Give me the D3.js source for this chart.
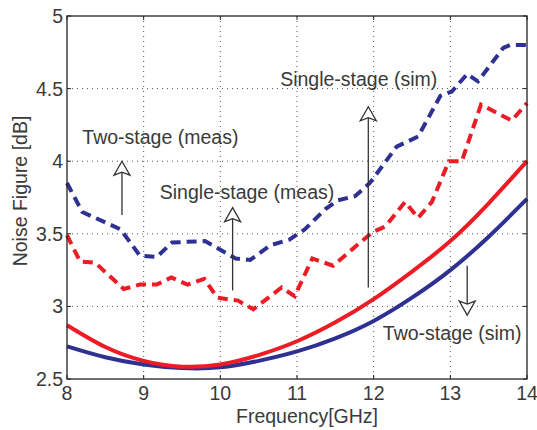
<!DOCTYPE html>
<html>
<head>
<meta charset="utf-8">
<script src="https://cdn.jsdelivr.net/npm/d3@7"></script>
<style>
  body { margin: 0; background: #fff; }
  text { font-family: "Liberation Sans", Arial, Helvetica, sans-serif; fill: #3a3a3a; }
</style>
</head>
<body>
<svg id="chart" width="537" height="430"></svg>
<script>
// tick values
var xTicks = [8, 9, 10, 11, 12, 13, 14]
  , yTicks = [2.5, 3, 3.5, 4, 4.5, 5];

// two-stage measured (blue dashed)
var twoMeasFreq = [8.0, 8.2, 8.7, 8.95, 9.17, 9.37, 9.8, 10.0, 10.2, 10.39, 10.65, 10.9, 11.1, 11.37, 11.53, 11.76, 11.95, 12.3, 12.58, 12.87, 13.02, 13.22, 13.36, 13.69, 13.78, 14.0]
  , twoMeasNF = [3.85, 3.65, 3.53, 3.35, 3.34, 3.44, 3.45, 3.39, 3.33, 3.32, 3.42, 3.46, 3.53, 3.67, 3.73, 3.76, 3.85, 4.1, 4.17, 4.45, 4.48, 4.6, 4.55, 4.78, 4.8, 4.8];

// single-stage measured (red dashed)
var singleMeasFreq = [8.0, 8.17, 8.37, 8.74, 8.95, 9.17, 9.36, 9.57, 9.79, 9.96, 10.23, 10.43, 10.8, 10.97, 11.2, 11.47, 11.98, 12.15, 12.41, 12.58, 12.76, 12.98, 13.15, 13.4, 13.8, 14.0]
  , singleMeasNF = [3.49, 3.31, 3.30, 3.12, 3.15, 3.15, 3.2, 3.15, 3.19, 3.06, 3.04, 2.98, 3.13, 3.07, 3.33, 3.28, 3.51, 3.55, 3.72, 3.61, 3.72, 4.0, 4.0, 4.39, 4.28, 4.4];

// simulated curves, sampled every 0.5 GHz
var simFreq = [8, 8.5, 9, 9.5, 10, 10.5, 11, 11.5, 12, 12.5, 13, 13.5, 14]
  , singleSimNF = [2.87, 2.72, 2.625, 2.585, 2.60, 2.665, 2.76, 2.89, 3.05, 3.24, 3.45, 3.71, 4.0]
  , twoSimNF = [2.725, 2.65, 2.60, 2.575, 2.58, 2.625, 2.69, 2.78, 2.90, 3.06, 3.25, 3.48, 3.74];

// annotations: text + arrows (data coords)
var labels = ["Two-stage (meas)", "Single-stage (meas)", "Single-stage (sim)", "Two-stage (sim)"]
  , labelFreq = [8.2, 9.21, 10.78, 12.12]
  , labelNF = [4.12, 3.74, 4.52, 2.77]
  , arrowFreq = [8.717, 10.16, 11.93, 13.22]
  , arrowFrom = [3.63, 3.11, 3.13, 3.28]
  , arrowTo = [4.0, 3.68, 4.375, 2.94];

var width = 537
  , height = 430
  , margin = {top: 16, right: 10, bottom: 51, left: 67}
  , blue = "#2e3192"
  , red = "#ed1c24"
  , fontSize = "19.5px";

var svg = d3.select("#chart");

var x = d3.scaleLinear().domain([8, 14]).range([margin.left, width - margin.right]);
var y = d3.scaleLinear().domain([2.5, 5]).range([height - margin.bottom, margin.top]);

var g = svg.append("g");

// dotted grid
g.selectAll(".vgrid")
  .data(xTicks.slice(1, -1))
 .enter().append("line")
  .attr("x1", d => x(d)).attr("x2", d => x(d))
  .attr("y1", y(5)).attr("y2", y(2.5))
  .attr("stroke", "#555").attr("stroke-width", 1)
  .attr("stroke-dasharray", "1,4");

g.selectAll(".hgrid")
  .data(yTicks.slice(1, -1))
 .enter().append("line")
  .attr("y1", d => y(d)).attr("y2", d => y(d))
  .attr("x1", x(8)).attr("x2", x(14))
  .attr("stroke", "#555").attr("stroke-width", 1)
  .attr("stroke-dasharray", "1,4");

// inside ticks on all four sides
var tickLen = 4;
xTicks.forEach(function(t){
  g.append("line").attr("x1", x(t)).attr("x2", x(t)).attr("y1", y(2.5)).attr("y2", y(2.5) - tickLen).attr("stroke", "#222");
  g.append("line").attr("x1", x(t)).attr("x2", x(t)).attr("y1", y(5)).attr("y2", y(5) + tickLen).attr("stroke", "#222");
});
yTicks.forEach(function(t){
  g.append("line").attr("y1", y(t)).attr("y2", y(t)).attr("x1", x(8)).attr("x2", x(8) + tickLen).attr("stroke", "#222");
  g.append("line").attr("y1", y(t)).attr("y2", y(t)).attr("x1", x(14)).attr("x2", x(14) - tickLen).attr("stroke", "#222");
});

// tick labels
g.selectAll(".xlab")
  .data(xTicks)
 .enter().append("text")
  .attr("x", d => x(d)).attr("y", y(2.5) + 21)
  .attr("text-anchor", "middle")
  .style("font-size", fontSize)
  .text(d => d);

g.selectAll(".ylab")
  .data(yTicks)
 .enter().append("text")
  .attr("x", x(8) - 4).attr("y", d => y(d) + 7)
  .attr("text-anchor", "end")
  .style("font-size", fontSize)
  .text(d => d);

// axis titles
g.append("text")
  .attr("x", 307).attr("y", 423)
  .attr("text-anchor", "middle")
  .style("font-size", fontSize)
  .text("Frequency[GHz]");

g.append("text")
  .attr("transform", "translate(27,191) rotate(-90)")
  .attr("text-anchor", "middle")
  .style("font-size", fontSize)
  .text("Noise Figure [dB]");

// curves
var line = d3.line().x(d => x(d[0])).y(d => y(d[1]));
var smooth = d3.line().x(d => x(d[0])).y(d => y(d[1])).curve(d3.curveNatural);

var plot = g.append("g");

plot.append("path")
  .attr("d", smooth(d3.zip(simFreq, twoSimNF)))
  .attr("fill", "none").attr("stroke", blue).attr("stroke-width", 4);

plot.append("path")
  .attr("d", smooth(d3.zip(simFreq, singleSimNF)))
  .attr("fill", "none").attr("stroke", red).attr("stroke-width", 4);

plot.append("path")
  .attr("d", line(d3.zip(singleMeasFreq, singleMeasNF)))
  .attr("fill", "none").attr("stroke", red).attr("stroke-width", 4)
  .attr("stroke-dasharray", "10,6");

plot.append("path")
  .attr("d", line(d3.zip(twoMeasFreq, twoMeasNF)))
  .attr("fill", "none").attr("stroke", blue).attr("stroke-width", 4)
  .attr("stroke-dasharray", "10,6");

// box
g.append("rect")
  .attr("x", x(8)).attr("y", y(5))
  .attr("width", x(14) - x(8)).attr("height", y(2.5) - y(5))
  .attr("fill", "none").attr("stroke", "#222").attr("stroke-width", 1.3);

// annotations
labels.forEach(function(txt, i){
  g.append("text")
    .attr("x", x(labelFreq[i])).attr("y", y(labelNF[i]))
    .style("font-size", fontSize)
    .text(txt);

  var ax = x(arrowFreq[i])
    , y0 = y(arrowFrom[i])
    , y1 = y(arrowTo[i])
    , dir = y1 < y0 ? 1 : -1; // 1 = pointing up

  g.append("line")
    .attr("x1", ax).attr("x2", ax)
    .attr("y1", y0).attr("y2", y1 + dir * 11)
    .attr("stroke", "#333").attr("stroke-width", 1.3);

  var head = [[ax, y1], [ax - 8, y1 + dir * 14], [ax, y1 + dir * 11], [ax + 8, y1 + dir * 14]];
  g.append("path")
    .attr("d", "M" + head.join("L") + "Z")
    .attr("fill", "#fff").attr("stroke", "#333").attr("stroke-width", 1.3)
    .attr("stroke-linejoin", "miter");
});
</script>
</body>
</html>
